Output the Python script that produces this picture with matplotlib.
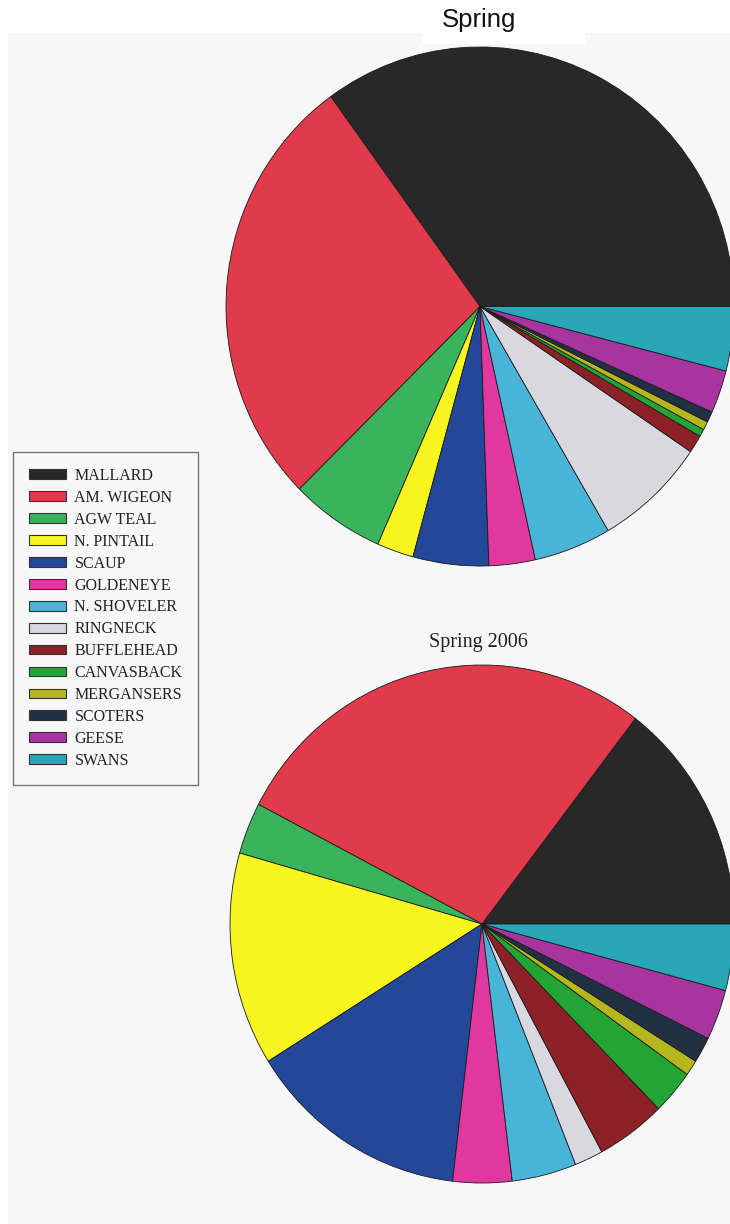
import matplotlib
matplotlib.use("Agg")
import matplotlib.pyplot as plt
from matplotlib.patches import Patch, Rectangle

species = ["MALLARD", "AM. WIGEON", "AGW TEAL", "N. PINTAIL", "SCAUP", "GOLDENEYE",
           "N. SHOVELER", "RINGNECK", "BUFFLEHEAD", "CANVASBACK", "MERGANSERS",
           "SCOTERS", "GEESE", "SWANS"]
colors = ["#282828", "#e03a4b", "#3ab45a", "#f7f520", "#23489a", "#e0389f",
          "#48b5d8", "#d9d7e0", "#8c2128", "#22a535", "#b6b61e",
          "#213043", "#a8359f", "#2aa6b9"]

# shares (slice angles in degrees, sum 360)
spring_top = [126.0, 98.7, 21.6, 8.4, 17.3, 10.6, 17.7, 25.7, 4.0, 1.7, 1.9, 2.4, 9.6, 14.4]
spring_2006 = [52.5, 100.0, 11.6, 47.9, 51.3, 13.6, 14.9, 6.6, 16.1, 10.0, 3.5, 5.8, 11.3, 14.9]

title_top = "Spring"
title_bottom = "Spring 2006"

W, H = 730, 1224
fig = plt.figure(figsize=(W / 100, H / 100), dpi=100)
fig.patch.set_facecolor("white")

def fx(px):
    return px / W

def fy(py):
    return 1 - py / H

# scanned page background
bg = "#f7f7f7"
fig.patches.append(Rectangle((fx(8), 0), 1 - fx(8), fy(33), transform=fig.transFigure,
                             facecolor=bg, edgecolor="none", zorder=-10))
fig.patches.append(Rectangle((fx(422), fy(44)), fx(585) - fx(422), fy(33) - fy(44),
                             transform=fig.transFigure, facecolor="white",
                             edgecolor="none", zorder=-9))

def draw_pie(values, cx, cy, rx, ry):
    ax = fig.add_axes([fx(cx - rx), fy(cy + ry), 2 * rx / W, 2 * ry / H])
    ax.pie(values, colors=colors, startangle=0, counterclock=True, radius=1,
           wedgeprops=dict(edgecolor="#1a1a1a", linewidth=0.6))
    ax.set_aspect("auto")
    ax.set_xlim(-1, 1)
    ax.set_ylim(-1, 1)
    ax.axis("off")
    return ax

draw_pie(spring_top, 480, 306.5, 254, 259.5)
draw_pie(spring_2006, 482, 924, 252, 259)

fig.text(fx(479), fy(20), title_top, ha="center", va="center",
         family="Liberation Sans", fontsize=18.5, color="#111111")
fig.text(fx(478), fy(642), title_bottom, ha="center", va="center",
         family="Liberation Serif", fontsize=14.5, color="#222222")

handles = [Patch(facecolor=c, edgecolor="#333333", linewidth=0.8) for c in colors]
leg = fig.legend(handles, species, loc="upper left",
                 bbox_to_anchor=(fx(13), fy(452)), bbox_transform=fig.transFigure,
                 borderaxespad=0, frameon=True, fancybox=False,
                 prop=dict(family="Liberation Serif", size=11.5),
                 handlelength=2.3, handleheight=0.56, handletextpad=0.55,
                 labelspacing=0.37, borderpad=1.0)
leg.get_frame().set_edgecolor("#555555")
leg.get_frame().set_linewidth(1.0)
leg.get_frame().set_facecolor(bg)
for t in leg.get_texts():
    t.set_color("#222222")

fig.savefig("out.png", dpi=100, facecolor=fig.get_facecolor())
